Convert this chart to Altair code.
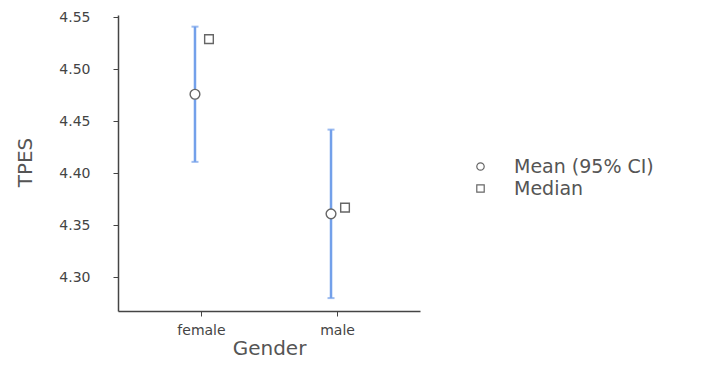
import altair as alt
import pandas as pd

gender = ["female", "male"]
mean_vals = [4.476, 4.361]
ci_lower = [4.411, 4.280]
ci_upper = [4.541, 4.442]
median_vals = [4.529, 4.367]
y_ticks = [4.30, 4.35, 4.40, 4.45, 4.50, 4.55]
stats = ["Mean (95% CI)", "Median"]

df_mean = pd.DataFrame({"Gender": gender, "value": mean_vals, "lo": ci_lower,
                        "hi": ci_upper, "stat": stats[0]})
df_med = pd.DataFrame({"Gender": gender, "value": median_vals, "stat": stats[1]})

FONT = "DejaVu Sans"
BLUE = "#73a0ea"
GRAY = "#666666"

x_enc = alt.X("Gender:N", sort=gender,
              scale=alt.Scale(type="point", padding=0.61),
              axis=alt.Axis(title="Gender", labelAngle=0, labelFontSize=14,
                            labelColor="#444444", labelFont=FONT, labelPadding=7,
                            tickSize=5, tickColor="#444444", domainColor="#444444",
                            domainWidth=1.5, titleFont=FONT, titleFontSize=20,
                            titleFontWeight="normal", titleColor="#555555",
                            titleBaseline="alphabetic", titleY=43))
y_scale = alt.Scale(domain=[4.2676, 4.5522], nice=False, zero=False)
y_axis = alt.Axis(title="TPES", values=y_ticks, format=".2f", grid=False,
                  labelFontSize=14, labelColor="#444444", labelFont=FONT,
                  labelPadding=23, tickSize=5, tickColor="#444444",
                  domainColor="#444444", domainWidth=1.5, titleFont=FONT,
                  titleFontSize=20, titleFontWeight="normal", titleColor="#555555",
                  titleAngle=270, titleBaseline="alphabetic", titleX=-87, titleY=147)

shape_scale = alt.Scale(domain=stats, range=["circle", "square"])
color_scale = alt.Scale(domain=stats, range=[GRAY, GRAY])
legend = alt.Legend(title=None, orient="none", legendX=353, legendY=142,
                    labelFont=FONT, labelFontSize=19, labelColor="#555555",
                    symbolSize=55, symbolStrokeWidth=1.2,
                    labelOffset=24, rowPadding=2)

rule = alt.Chart(df_mean).mark_rule(color=BLUE, strokeWidth=2.5, xOffset=-6).encode(
    x=x_enc, y=alt.Y("lo:Q", scale=y_scale, axis=y_axis), y2="hi:Q")
cap_lo = alt.Chart(df_mean).mark_tick(color=BLUE, orient="horizontal", size=7,
                                       thickness=2, xOffset=-6).encode(
    x=x_enc, y=alt.Y("lo:Q", scale=y_scale))
cap_hi = alt.Chart(df_mean).mark_tick(color=BLUE, orient="horizontal", size=7,
                                       thickness=2, xOffset=-6).encode(
    x=x_enc, y=alt.Y("hi:Q", scale=y_scale))
mean_pts = alt.Chart(df_mean).mark_point(filled=False, fill="white",
                                         strokeWidth=1.4, size=95, opacity=1,
                                         xOffset=-6).encode(
    x=x_enc, y=alt.Y("value:Q", scale=y_scale),
    shape=alt.Shape("stat:N", scale=shape_scale, legend=legend),
    color=alt.Color("stat:N", scale=color_scale, legend=legend))
med_pts = alt.Chart(df_med).mark_point(filled=False, fill="white",
                                       strokeWidth=1.4, size=75, opacity=1,
                                       xOffset=8).encode(
    x=x_enc, y=alt.Y("value:Q", scale=y_scale),
    shape=alt.Shape("stat:N", scale=shape_scale, legend=legend),
    color=alt.Color("stat:N", scale=color_scale, legend=legend))

chart = alt.layer(rule, cap_lo, cap_hi, mean_pts, med_pts).properties(
    width=302, height=296,
    autosize=alt.AutoSizeParams(type="none"),
    padding={"left": 110, "top": 7, "right": 283, "bottom": 48},
    background="white",
).configure_view(stroke=None)

chart.save("out.html", embed_options={"renderer": "svg", "actions": False})
